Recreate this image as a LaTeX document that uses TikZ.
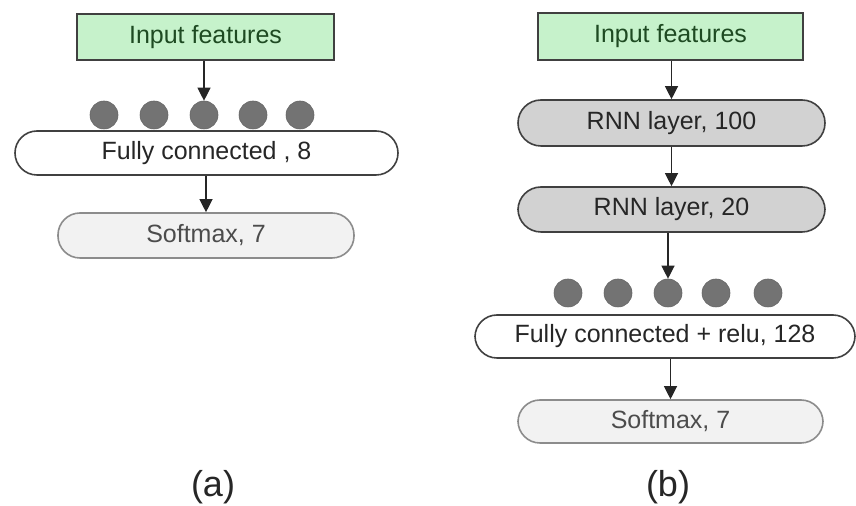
\documentclass[tikz,border=0pt]{standalone}
\usepackage{fontspec}
\setmainfont{Liberation Sans}
\usetikzlibrary{arrows.meta}
\definecolor{ingreen}{HTML}{C6F2CB}
\definecolor{intext}{HTML}{1E4A22}
\definecolor{rnngray}{HTML}{D2D2D2}
\definecolor{smgray}{HTML}{F2F2F2}
\definecolor{dotgray}{HTML}{737373}
\tikzset{
  base/.style={draw=black!75, line width=0.8pt, inner sep=0pt, font=\fontsize{12.5}{15}\selectfont, text=black!85},
  inbox/.style={base, rectangle, fill=ingreen, text=intext},
  fcbox/.style={base, rectangle, rounded corners=11pt, fill=white},
  rnnbox/.style={base, rectangle, rounded corners=11.5pt, fill=rnngray},
  smbox/.style={base, rectangle, rounded corners=11pt, fill=smgray, draw=black!45, text=black!70},
  dot/.style={circle, fill=dotgray, draw=black!60, line width=0.3pt, minimum size=14pt, inner sep=0pt},
  flow/.style={draw=black!85, line width=0.6pt, -{Triangle[width=6.5pt,length=6.5pt]}},
  caption/.style={font=\fontsize{18}{22}\selectfont, text=black!85}
}
\begin{document}
\begin{tikzpicture}[x=0.5pt,y=-0.5pt]
\useasboundingbox (0,0) rectangle (856,506);
% panel (a)
\node[inbox, minimum width=128.5pt, minimum height=23pt] (inA) at (205.5,37) {Input features};
\foreach \i/\x in {1/104,2/154,3/204,4/253,5/300}
  \node[dot] (da\i) at (\x,115) {};
\node[fcbox, minimum width=191.5pt, minimum height=22pt] (fcA) at (206.5,153) {Fully connected , 8};
\node[smbox, minimum width=148pt, minimum height=22.5pt] (smA) at (206,235.5) {Softmax, 7};
\draw[flow] (da3.north |- inA.south) -- (da3.north);
\draw[flow] (smA.north |- fcA.south) -- (smA.north);
\node[caption] (capA) at (213,487) {(a)};
% panel (b)
\node[inbox, minimum width=132.5pt, minimum height=23.5pt] (inB) at (670.5,36.5) {Input features};
\node[rnnbox, minimum width=153.5pt, minimum height=23pt] (rnn1) at (671.5,123) {RNN layer, 100};
\node[rnnbox, minimum width=153.5pt, minimum height=22.5pt] (rnn2) at (671.5,209.5) {RNN layer, 20};
\foreach \i/\x in {1/568,2/618,3/668,4/716,5/768}
  \node[dot] (db\i) at (\x,293) {};
\node[fcbox, minimum width=190pt, minimum height=21.5pt] (fcB) at (665,336.5) {Fully connected + relu, 128};
\node[smbox, minimum width=152.5pt, minimum height=21.5pt] (smB) at (670.5,421.5) {Softmax, 7};
\draw[flow] (rnn1.north |- inB.south) -- (rnn1.north);
\draw[flow] (rnn1.south) -- (rnn2.north);
\draw[flow] (rnn2.south -| db3.north) -- (db3.north);
\draw[flow] (fcB.south -| smB.north) -- (smB.north);
\node[caption] (capB) at (668,487) {(b)};
\end{tikzpicture}
\end{document}
